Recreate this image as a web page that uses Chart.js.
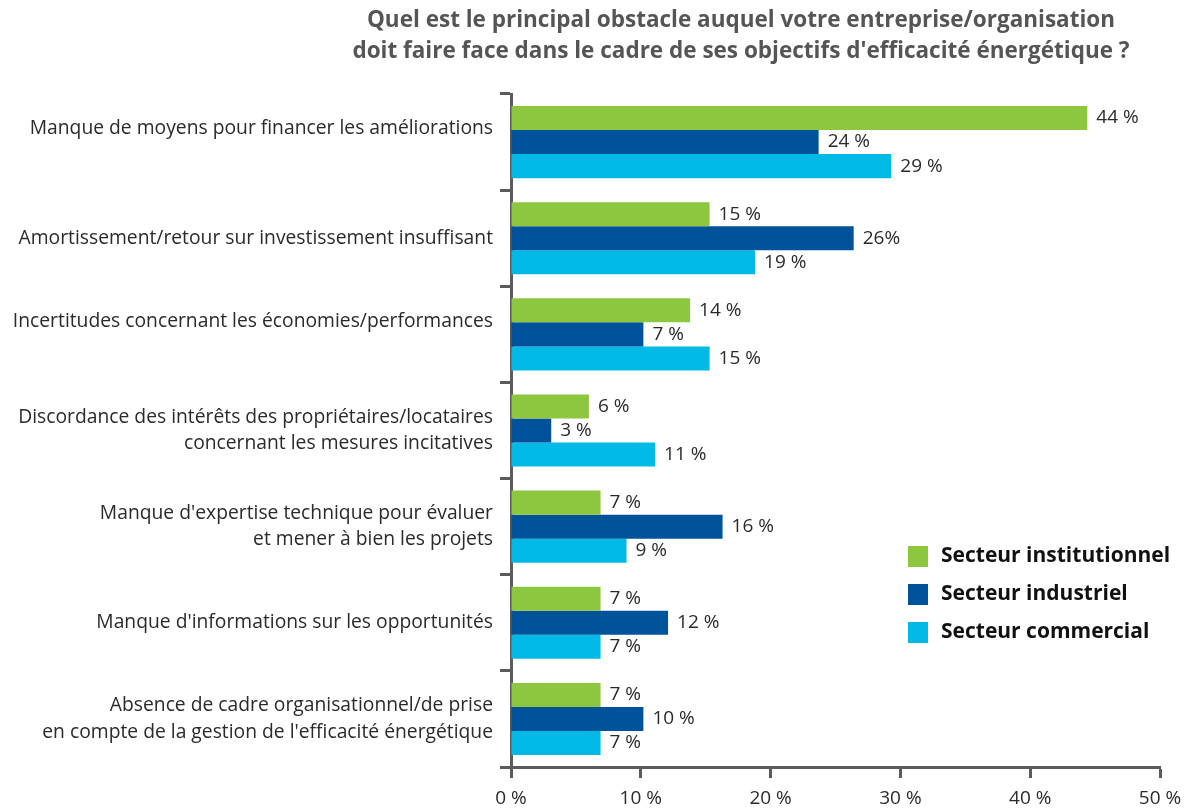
<!DOCTYPE html>
<html>
<head>
<meta charset="utf-8">
<script src="https://cdn.jsdelivr.net/npm/chart.js@4/dist/chart.umd.min.js"></script>
<style>
  html, body { margin: 0; padding: 0; background: #fff; }
  #wrap { position: relative; width: 1186px; height: 810px; }
</style>
</head>
<body>
<div id="wrap"><canvas id="obstacleChart" width="1186" height="810"></canvas></div>
<script>
// Chart data (an empty second line lifts the single-line labels as in the source)
const categories = [
    ['Manque de moyens pour financer les améliorations', ''],
    ['Amortissement/retour sur investissement insuffisant'],
    ['Incertitudes concernant les économies/performances', ''],
    ['Discordance des intérêts des propriétaires/locataires', 'concernant les mesures incitatives'],
    ["Manque d'expertise technique pour évaluer", 'et mener à bien les projets'],
    ["Manque d'informations sur les opportunités"],
    ['Absence de cadre organisationnel/de prise', "en compte de la gestion de l'efficacité énergétique"]
];
const seriesNames = ['Secteur institutionnel', 'Secteur industriel', 'Secteur commercial'];
const institutionnel = [44.4, 15.3, 13.8, 6.0, 6.9, 6.9, 6.9];
const industriel = [23.7, 26.4, 10.2, 3.1, 16.3, 12.1, 10.2];
const commercial = [29.3, 18.8, 15.3, 11.1, 8.9, 6.9, 6.9];
const institutionnelLabels = ['44 %', '15 %', '14 %', '6 %', '7 %', '7 %', '7 %'];
const industrielLabels = ['24 %', '26%', '7 %', '3 %', '16 %', '12 %', '10 %'];
const commercialLabels = ['29 %', '19 %', '15 %', '11 %', '9 %', '7 %', '7 %'];
const xTicks = [0, 10, 20, 30, 40, 50];
const titleLines = [
    'Quel est le principal obstacle auquel votre entreprise/organisation',
    "doit faire face dans le cadre de ses objectifs d'efficacité énergétique ?"
];

const colors = ['#8dc63f', '#00529b', '#00b9e4'];
const axisColor = '#5b5b5b';
const FONT = '"Open Sans", "Noto Sans", sans-serif';

/**
 * Title, value labels and legend drawn on the canvas
 */
const decorPlugin = {
    id: 'decor',
    afterDraw(chart) {
        const ctx = chart.ctx;
        ctx.save();

        // title
        ctx.fillStyle = '#555555';
        ctx.font = 'bold 22.5px ' + FONT;
        ctx.textAlign = 'center';
        ctx.textBaseline = 'middle';
        titleLines.forEach((line, i) => ctx.fillText(line, 741, 21 + i * 31));

        // value labels
        ctx.fillStyle = '#2a2a2a';
        ctx.font = '19px ' + FONT;
        ctx.textAlign = 'left';
        chart.data.datasets.forEach((ds, di) => {
            const meta = chart.getDatasetMeta(di);
            meta.data.forEach((bar, i) => {
                ctx.fillText(ds.valueLabels[i], bar.x + 9, bar.y);
            });
        });

        // legend
        ctx.font = 'bold 21px ' + FONT;
        chart.data.datasets.forEach((ds, di) => {
            const y = 556 + di * 38;
            ctx.fillStyle = ds.backgroundColor;
            ctx.fillRect(908, y - 10, 20, 21);
            ctx.fillStyle = '#111111';
            ctx.fillText(ds.label, 941, y);
        });

        ctx.restore();
    }
};

function makeDataset(label, data, valueLabels, color) {
    return {
        label: label,
        data: data,
        valueLabels: valueLabels,
        backgroundColor: color,
        borderWidth: 0,
        categoryPercentage: 0.75,
        barPercentage: 1.0
    };
}

const obstacleChart = new Chart(document.getElementById('obstacleChart'), {
    type: 'bar',
    data: {
        labels: categories,
        datasets: [
            makeDataset(seriesNames[0], institutionnel, institutionnelLabels, colors[0]),
            makeDataset(seriesNames[1], industriel, industrielLabels, colors[1]),
            makeDataset(seriesNames[2], commercial, commercialLabels, colors[2])
        ]
    },
    options: {
        indexAxis: 'y',
        responsive: false,
        animation: false,
        layout: {
            padding: { top: 94, right: 26, bottom: 0, left: 0 }
        },
        plugins: {
            legend: { display: false },
            title: { display: false },
            tooltip: { enabled: false }
        },
        scales: {
            x: {
                min: 0,
                max: 50,
                afterBuildTicks: (axis) => { axis.ticks = xTicks.map(v => ({ value: v })); },
                afterFit: (axis) => {
                    axis.height = 43;
                    axis.paddingLeft = 0;
                    axis.paddingRight = 0;
                },
                border: { display: true, color: axisColor, width: 3 },
                grid: {
                    drawOnChartArea: false,
                    drawTicks: true,
                    tickLength: 11,
                    tickWidth: 3,
                    tickColor: axisColor
                },
                ticks: {
                    color: '#2a2a2a',
                    padding: 9,
                    font: { family: FONT, size: 19 },
                    callback: (v) => v + ' %'
                }
            },
            y: {
                afterFit: (axis) => { axis.width = 511; },
                border: { display: true, color: axisColor, width: 3 },
                grid: {
                    offset: true,
                    drawOnChartArea: false,
                    drawTicks: true,
                    tickLength: 11,
                    tickWidth: 3,
                    tickColor: axisColor
                },
                ticks: {
                    color: '#2a2a2a',
                    padding: 7,
                    font: { family: FONT, size: 19.3, lineHeight: 1.37 }
                }
            }
        }
    },
    plugins: [decorPlugin]
});
</script>
</body>
</html>
